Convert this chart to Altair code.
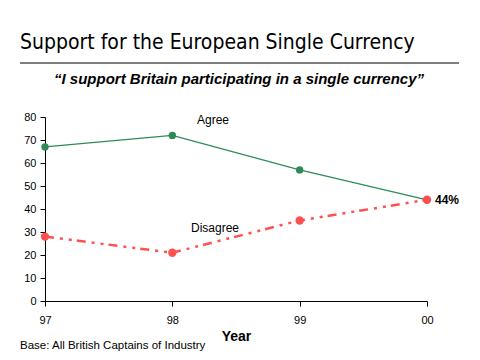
import altair as alt
import pandas as pd

years = ["97", "98", "99", "00"]
agree = [67, 72, 57, 44]
disagree = [28, 21, 35, 44]

df = pd.DataFrame({
    "Year": years * 2,
    "Value": agree + disagree,
    "Series": ["Agree"] * 4 + ["Disagree"] * 4,
})

W, H = 382, 184
GREEN = "#2E8B57"
RED = "#FF5050"
FONT = "Liberation Sans"

x = alt.X("Year:O", sort=years,
          scale=alt.Scale(type="point", padding=0),
          axis=alt.Axis(title="Year", titleFont=FONT, titleFontSize=14, titleFontWeight="bold",
                        titleColor="black", titlePadding=4, labelAngle=0, labelFont=FONT,
                        labelFontSize=11, labelColor="black", labelPadding=8, tickSize=5,
                        tickColor="black", domainColor="black", grid=False))
y = alt.Y("Value:Q", scale=alt.Scale(domain=[0, 80]),
          axis=alt.Axis(title=None, values=list(range(0, 81, 10)), labelFont=FONT,
                        labelFontSize=11, labelColor="black", labelPadding=4, tickSize=5,
                        tickColor="black", domainColor="black", grid=False))

base = alt.Chart(df)

agree_line = base.transform_filter(alt.datum.Series == "Agree").mark_line(
    color=GREEN, strokeWidth=1.3).encode(x=x, y=y)
agree_pts = base.transform_filter(alt.datum.Series == "Agree").mark_point(
    filled=True, size=55, color=GREEN, opacity=1).encode(x=x, y=y)
dis_line = base.transform_filter(alt.datum.Series == "Disagree").mark_line(
    color=RED, strokeWidth=2.5, strokeDash=[9, 6, 3, 6, 3, 5]).encode(x=x, y=y)
dis_pts = base.transform_filter(alt.datum.Series == "Disagree").mark_point(
    filled=True, size=70, color=RED, opacity=1).encode(x=x, y=y)

last = base.transform_filter((alt.datum.Series == "Disagree") & (alt.datum.Year == "00")).mark_text(
    align="left", baseline="middle", dx=8, font=FONT, fontSize=12, fontWeight="bold",
    color="black").encode(x=x, y=y, text=alt.value("44%"))

def txt(s, xv, yv, **kw):
    params = dict(font=FONT, fontSize=12, color="black")
    params.update(kw)
    return alt.Chart(pd.DataFrame({"t": [s]})).mark_text(**params).encode(
        x=alt.value(xv), y=alt.value(yv), text="t:N")

agree_lbl = txt("Agree", 168, 3, baseline="middle", align="center")
dis_lbl = txt("Disagree", 170, 111, baseline="middle", align="center")
title = txt("Support for the European Single Currency", -25, -68, fontSize=21,
            align="left", baseline="alphabetic", font="DejaVu Sans Condensed")
subtitle = txt("\u201cI support Britain participating in a single currency\u201d", 194, -33,
               fontSize=15, fontWeight="bold", fontStyle="italic",
               align="center", baseline="alphabetic")
base_note = txt("Base: All British Captains of Industry", -25, 232, fontSize=11.5,
                align="left", baseline="alphabetic")
rule = alt.Chart(pd.DataFrame({"a": [0]})).mark_rule(color="black", strokeWidth=1).encode(
    x=alt.value(-25), x2=alt.value(414), y=alt.value(-54))

chart = alt.layer(
    agree_line, dis_line, agree_pts, dis_pts, last,
    agree_lbl, dis_lbl, title, subtitle, base_note, rule
).properties(
    width=W, height=H,
    autosize=alt.AutoSizeParams(type="none"),
    padding={"left": 37, "top": 109, "right": 45, "bottom": 51},
    background="white",
).configure_view(stroke=None)

chart.save("out.html", embed_options={"renderer": "svg", "actions": False})
